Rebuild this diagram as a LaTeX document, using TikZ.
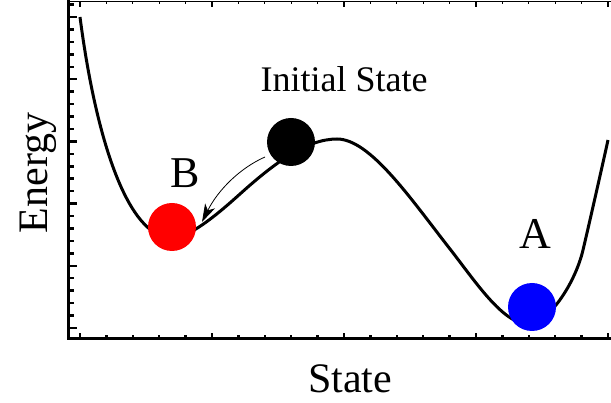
\documentclass[tikz,border=0pt]{standalone}
\usepackage{fontspec}
\setmainfont{Liberation Serif}
\usetikzlibrary{arrows.meta}
\begin{document}
\begin{tikzpicture}[x=1pt,y=-1pt,
  axisline/.style={line width=3pt},
  topline/.style={line width=1.5pt},
  curveline/.style={line width=3pt, line join=round},
  ball/.style={circle, minimum size=48pt, inner sep=0pt},
  lbl/.style={inner sep=0pt, font=\fontsize{44}{50}\selectfont},
  axlbl/.style={inner sep=0pt, font=\fontsize{42}{48}\selectfont},
  ttl/.style={inner sep=0pt, font=\fontsize{36}{42}\selectfont}]
\useasboundingbox (0,0) rectangle (611,403);
% axes
\draw[topline] (68,1.5) -- (611,1.5);
\foreach \i in {0,...,20} {
  \pgfmathsetmacro{\xx}{80+26.4*\i}
  \pgfmathtruncatemacro{\m}{mod(\i,5)}
  \ifnum\m=0
    \draw[line width=1.2pt] (\xx,1.5) -- (\xx,7);
    \draw[line width=2.5pt] (\xx,339) -- (\xx,333);
  \else
    \draw[line width=1pt] (\xx,1.5) -- (\xx,4.5);
    \draw[line width=2.5pt] (\xx,339) -- (\xx,335.5);
  \fi
}
\foreach \i in {-1,...,25} {
  \pgfmathsetmacro{\yy}{17+12.44*\i}
  \pgfmathtruncatemacro{\m}{mod(\i+5,5)}
  \ifnum\m=0
    \draw[line width=2.5pt] (68,\yy) -- (77,\yy);
  \else
    \draw[line width=2.5pt] (68,\yy) -- (73.5,\yy);
  \fi
}
\draw[axisline] (68.5,0) -- (68.5,339) -- (611,339);
% curve
\draw[curveline] (80,17) .. controls (96,140) and (128,238) .. (172,238)
  .. controls (190,238) and (220,212) .. (240,194)
  .. controls (275,162.5) and (307,139) .. (337,139)
  .. controls (370,139) and (410,197.8) .. (450,249)
  .. controls (475,281) and (503,324) .. (528,324)
  .. controls (548,324) and (575,284) .. (583,250)
  .. controls (589,224.8) and (604,158.4) .. (608,140);
% balls
\node[ball, fill=red] (b) at (172,227) {};
\node[ball, fill=black] (init) at (291,142) {};
\node[ball, fill=blue] (a) at (532,307) {};
\coordinate (as) at (265,157);
\coordinate (ae) at (202,222);
\draw[line width=0.8pt, -{Stealth[length=18pt,width=11pt,inset=5pt]}]
  (as) .. controls (240,168) and (218,190) .. (ae);
% labels
\node[lbl, anchor=base] (lb) at (185,188) {B};
\node[lbl, anchor=base] (la) at (535,249) {A};
\node[ttl, anchor=base] (li) at (344,92) {Initial State};
\node[axlbl, anchor=base] (lx) at (350,393) {State};
\node[axlbl, anchor=base, rotate=90] (ly) at (47,173) {Energy};
\end{tikzpicture}
\end{document}
